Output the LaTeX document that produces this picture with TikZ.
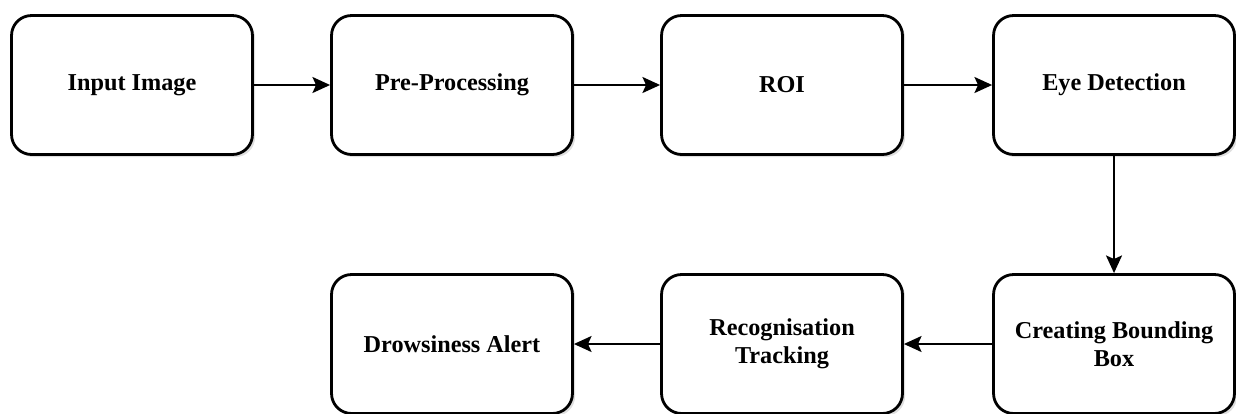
\documentclass[tikz,border=0pt]{standalone}
\usepackage{fontspec}
\setmainfont{Liberation Serif}
\usepackage{tikz}
\usetikzlibrary{arrows.meta,shadows}

\begin{document}
\begin{tikzpicture}[x=0.02cm,y=-0.02cm,->,>={Stealth[length=10pt,width=9pt,inset=2pt]},line width=1.6pt,
  stage/.style={draw,rounded corners=0.4cm,fill=white,minimum width=4.82cm,minimum height=2.78cm,
    align=center,font=\fontsize{13.8}{16}\selectfont\bfseries,
    drop shadow={shadow xshift=1.5pt,shadow yshift=-1.5pt,opacity=0.25}}]
\useasboundingbox (0,0) rectangle (1236,413);
\node[stage] (1) at (132,85) {Input Image};
\node[stage] (2) at (452,85) {Pre-Processing};
\node[stage] (3) at (782,85) {ROI};
\node[stage] (4) at (1114,85) {Eye Detection};
\node[stage] (5) at (1114,344) {Creating Bounding\\Box};
\node[stage] (6) at (782,344) {Recognisation\\Tracking};
\node[stage] (7) at (452,344) {Drowsiness Alert};

\path (1) edge (2)
      (2) edge (3)
      (3) edge (4)
      (4) edge (5)
      (5) edge (6)
      (6) edge (7);

\end{tikzpicture}
\end{document}
